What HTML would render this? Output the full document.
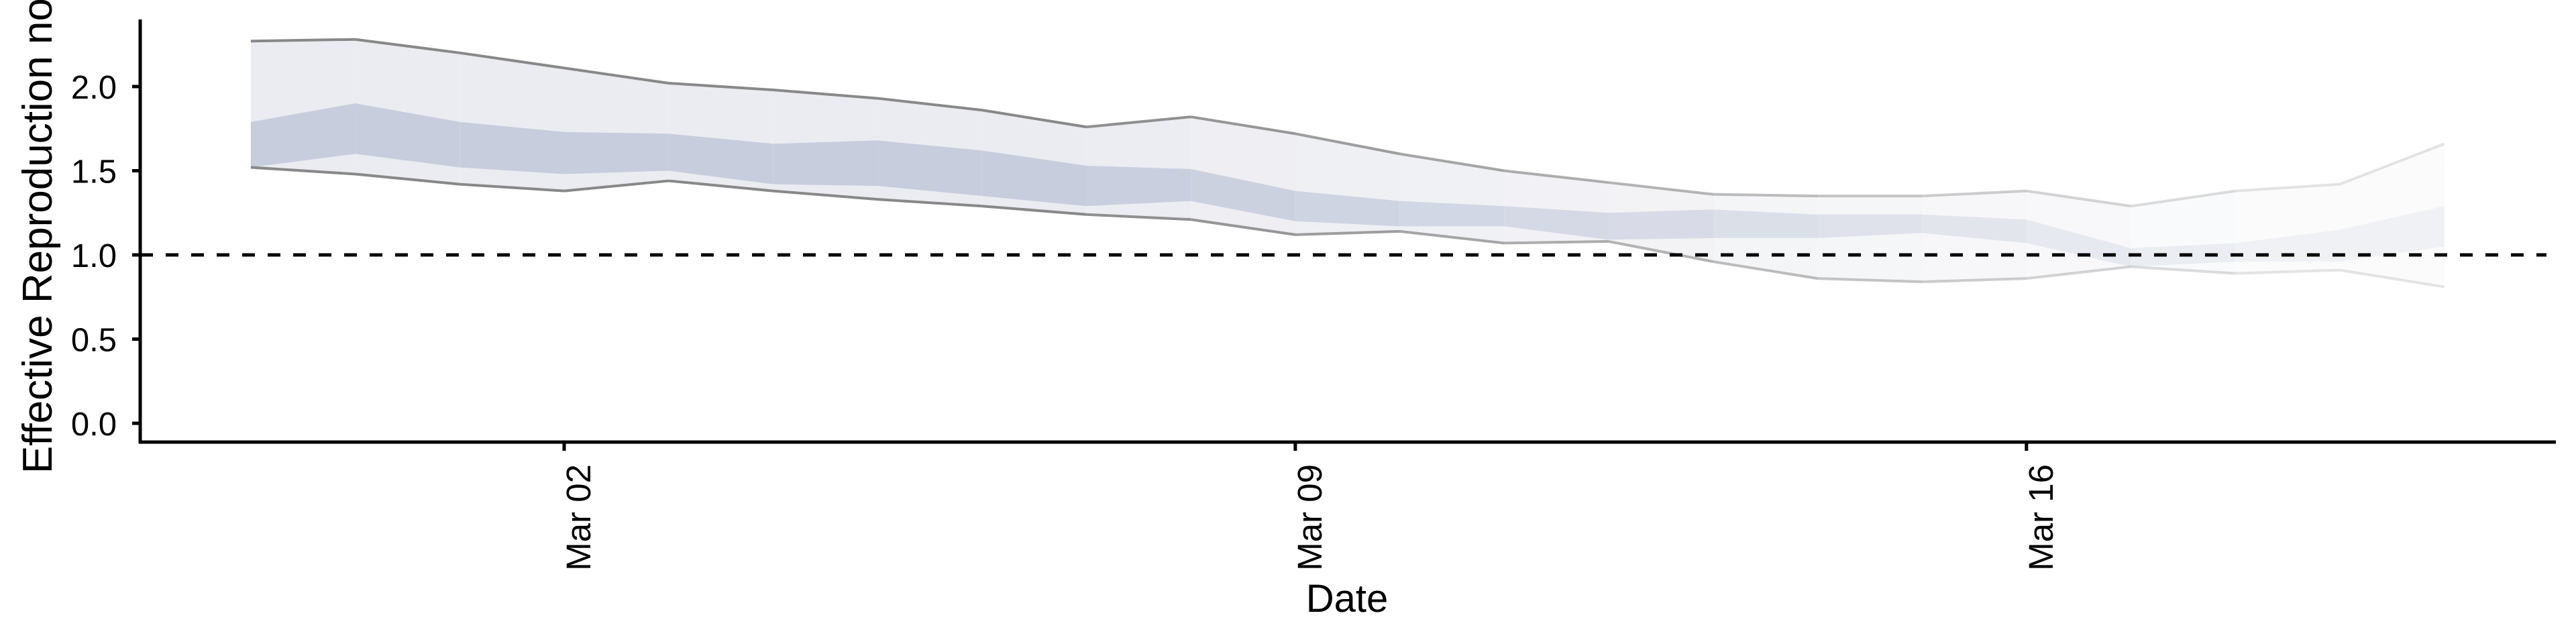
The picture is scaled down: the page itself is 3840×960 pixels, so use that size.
<!DOCTYPE html>
<html><head><meta charset="utf-8"><style>
html,body{margin:0;padding:0;background:#fff;}
svg{display:block;font-family:"Liberation Sans",Arial,sans-serif;}
</style></head><body>
<svg id="chart" width="3840" height="960" viewBox="0 0 3840 960" xmlns="http://www.w3.org/2000/svg">
<g id="bands"></g>
<g id="lines"></g>
<line x1="209" y1="380" x2="3796" y2="380" stroke="#000" stroke-width="5" stroke-dasharray="19 19"/>
<line x1="209" y1="29" x2="209" y2="661" stroke="#000" stroke-width="5"/>
<line x1="207" y1="659" x2="3810" y2="659" stroke="#000" stroke-width="5"/>
<g id="yticks"></g>
<g id="xticks"></g>
<text transform="translate(77,706) rotate(-90)" font-size="62" fill="#000">Effective Reproduction no.</text>
<text x="2008" y="912" font-size="58" text-anchor="middle" fill="#000">Date</text>
</svg>
<script>
const dayOffsets = [-3,-2,-1,0,1,2,3,4,5,6,7,8,9,10,11,12,13,14,15,16,17,18];
const upper90 = [2.27,2.28,2.20,2.11,2.02,1.98,1.93,1.86,1.76,1.82,1.72,1.60,1.50,1.43,1.36,1.35,1.35,1.38,1.29,1.38,1.42,1.66];
const upper50 = [1.79,1.90,1.79,1.73,1.72,1.66,1.68,1.62,1.53,1.51,1.38,1.32,1.29,1.25,1.27,1.24,1.24,1.21,1.04,1.07,1.15,1.29];
const lower50 = [1.52,1.60,1.52,1.48,1.50,1.42,1.41,1.35,1.29,1.32,1.20,1.17,1.17,1.09,1.10,1.10,1.13,1.07,0.93,0.96,0.96,1.05];
const lower90 = [1.52,1.48,1.42,1.38,1.44,1.38,1.33,1.29,1.24,1.21,1.12,1.14,1.07,1.08,0.96,0.86,0.84,0.86,0.93,0.89,0.91,0.81];
const yTickValues = [0,0.5,1.0,1.5,2.0];
const yTickLabels = ["0.0","0.5","1.0","1.5","2.0"];
const xTickDays = [0,7,14];
const xTickLabels = ["Mar 02","Mar 09","Mar 16"];

const NS="http://www.w3.org/2000/svg";
function xScale(d){return 841+d*155.7;}
function yScale(v){return 631-v*251;}
function mk(tag,attrs,parent){const e=document.createElementNS(NS,tag);for(const k in attrs)e.setAttribute(k,attrs[k]);parent.appendChild(e);return e;}
function opac(i){return i<8?1:Math.max(0.22,1-(i-7)*0.065);}

const bands=document.getElementById('bands'), lines=document.getElementById('lines');
for(let i=0;i<dayOffsets.length-1;i++){
  const x0=xScale(dayOffsets[i]), x1=xScale(dayOffsets[i+1]);
  const o=opac(i);
  const p1=mk('polygon',{points:`${x0},${yScale(upper90[i])} ${x1},${yScale(upper90[i+1])} ${x1},${yScale(lower90[i+1])} ${x0},${yScale(lower90[i])}`,fill:'#ebecf1','fill-opacity':o},bands);
  
  
  const p2=mk('polygon',{points:`${x0},${yScale(upper50[i])} ${x1},${yScale(upper50[i+1])} ${x1},${yScale(lower50[i+1])} ${x0},${yScale(lower50[i])}`,fill:'#c7cddd','fill-opacity':o},bands);
  
  
  const l1=mk('line',{x1:x0,y1:yScale(upper90[i]),x2:x1,y2:yScale(upper90[i+1]),stroke:'#888','stroke-width':4,'stroke-opacity':o},lines);
  
  
  const l2=mk('line',{x1:x0,y1:yScale(lower90[i]),x2:x1,y2:yScale(lower90[i+1]),stroke:'#888','stroke-width':4,'stroke-opacity':o},lines);
  
  
}
const yt=document.getElementById('yticks');
yTickValues.forEach((v,i)=>{
  const y=yScale(v);
  const t=mk('line',{x1:197,y1:y,x2:209,y2:y,stroke:'#000','stroke-width':5},yt);
  
  
  const tx=mk('text',{x:174,y:y+18,'font-size':49,'text-anchor':'end',fill:'#000'},yt);
  
  
  tx.textContent=yTickLabels[i];
});
const xt=document.getElementById('xticks');
xTickDays.forEach((d,i)=>{
  const x=xScale(d);
  const t=mk('line',{x1:x,y1:659,x2:x,y2:672,stroke:'#000','stroke-width':5},xt);
  
  
  const tx=mk('text',{transform:`translate(${x+39},692) rotate(-90)`,'font-size':51,'text-anchor':'end',fill:'#000'},xt);
  
  
  tx.textContent=xTickLabels[i];
});
</script>
</body></html>
